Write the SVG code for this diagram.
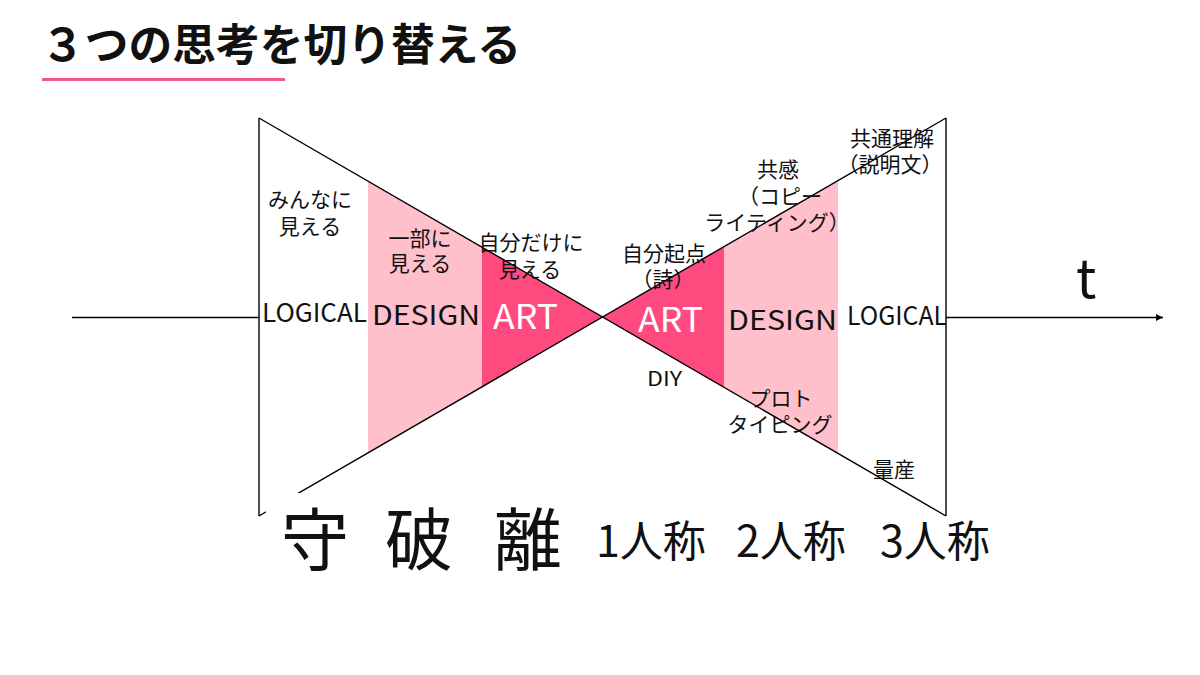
<svg xmlns="http://www.w3.org/2000/svg" width="1200" height="675" viewBox="0 0 1200 675">
<defs>
<marker id="arr" viewBox="0 0 10 10" refX="10" refY="5" markerWidth="7" markerHeight="7" markerUnits="userSpaceOnUse" orient="auto">
<path d="M0,0 L10,5 L0,10 z" fill="#000"/>
</marker>
<style>
.jp{font-family:"Noto Sans CJK JP","Noto Sans",sans-serif;fill:#111;}
.lbl{font-size:21px;text-anchor:middle;}
.en{font-family:"Noto Sans CJK JP","Noto Sans",sans-serif;fill:#111;}
.edge{stroke:#000;stroke-width:1.4;fill:none;}
.light{fill:#FFC0CB;}
.dark{fill:#FF4A80;}
</style>
</defs>
<rect width="1200" height="675" fill="#fff"/>

<g id="title">
<text class="jp" x="41" y="61" font-size="44" font-weight="700" textLength="480" lengthAdjust="spacingAndGlyphs">３つの思考を切り替える</text>
<rect x="42" y="78" width="243" height="3" fill="#EE5A8A"/>
</g>

<g id="bands">
<polygon class="light" points="368,181.1 482,247.2 482,386.8 368,452.9"/>
<polygon class="dark" points="482,247.2 602.5,317 482,386.8"/>
<polygon class="dark" points="602.5,317 724,246.6 724,387.4"/>
<polygon class="light" points="724,246.6 838,180.6 838,453.4 724,387.4"/>
</g>

<g id="bowtie">
<line class="edge" x1="259" y1="118" x2="946" y2="516"/>
<line class="edge" x1="259" y1="516" x2="946" y2="118"/>
<line class="edge" x1="259" y1="118" x2="259" y2="516"/>
<line class="edge" x1="946" y1="118" x2="946" y2="516"/>
</g>

<g id="connectors">
<line x1="72" y1="317.5" x2="259" y2="317.5" stroke="#000" stroke-width="1.5"/>
<line x1="946" y1="317.5" x2="1163" y2="317.5" stroke="#000" stroke-width="1.5" marker-end="url(#arr)"/>
</g>

<g id="logical-left">
<text class="en" x="262" y="322" font-size="26" textLength="105" lengthAdjust="spacingAndGlyphs">LOGICAL</text>
<text class="jp lbl" x="310" y="207">みんなに<tspan x="310" dy="27">見える</tspan></text>
</g>

<g id="design-left">
<text class="en" x="372" y="325" font-size="27" textLength="108" lengthAdjust="spacingAndGlyphs">DESIGN</text>
<text class="jp lbl" x="420" y="246">一部に<tspan x="420" dy="25">見える</tspan></text>
</g>

<g id="art-left">
<text class="en" x="493" y="329" font-size="34" textLength="65" lengthAdjust="spacingAndGlyphs" style="fill:#fff">ART</text>
<text class="jp lbl" x="531" y="250">自分だけに<tspan x="530" dy="27">見える</tspan></text>
</g>

<g id="art-right">
<text class="en" x="638" y="332" font-size="34" textLength="65" lengthAdjust="spacingAndGlyphs" style="fill:#fff">ART</text>
<text class="jp lbl" x="664" y="261">自分起点<tspan x="663" dy="26">（詩）</tspan></text>
<text class="en" x="647" y="386" font-size="20" textLength="35" lengthAdjust="spacingAndGlyphs">DIY</text>
</g>

<g id="design-right">
<text class="en" x="728" y="330" font-size="27" textLength="109" lengthAdjust="spacingAndGlyphs">DESIGN</text>
<text class="jp lbl" x="778" y="177">共感<tspan x="780" dy="27">（コピー</tspan><tspan x="777" dy="26">ライティング）</tspan></text>
<text class="jp lbl" x="781" y="406">プロト<tspan x="780" dy="26">タイピング</tspan></text>
</g>

<g id="logical-right">
<text class="en" x="847" y="325" font-size="26" textLength="100" lengthAdjust="spacingAndGlyphs">LOGICAL</text>
<text class="jp lbl" x="892" y="146">共通理解<tspan x="890" dy="26">（説明文）</tspan></text>
<text class="jp lbl" x="894" y="477">量産</text>
</g>

<g id="time-label">
<text class="en" x="1076" y="298" font-size="54">t</text>
</g>

<g id="stages">
<rect x="266" y="493" width="300" height="85" fill="#fff"/>
<text class="jp" x="281" y="565" font-size="68">守</text>
<text class="jp" x="385" y="565" font-size="68">破</text>
<text class="jp" x="494" y="565" font-size="68">離</text>
<text class="jp" x="596" y="557" font-size="43">1人称</text>
<text class="jp" x="736" y="557" font-size="43">2人称</text>
<text class="jp" x="880" y="557" font-size="43">3人称</text>
</g>
</svg>
